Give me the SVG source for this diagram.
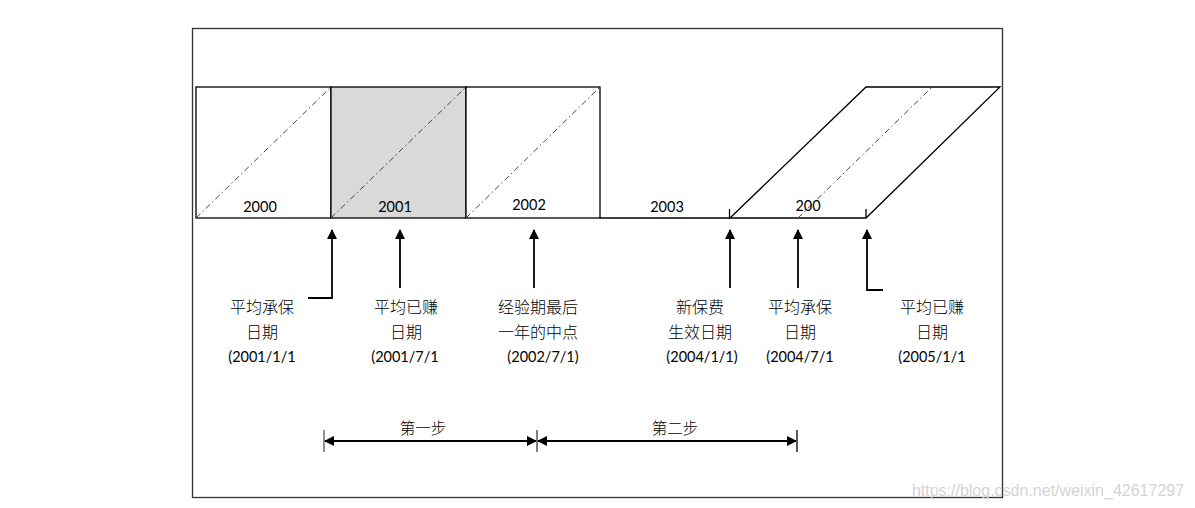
<svg xmlns="http://www.w3.org/2000/svg" width="1195" height="508" viewBox="0 0 1195 508">
<defs>
<marker id="ah" viewBox="0 0 10 10" refX="9" refY="5" markerWidth="10" markerHeight="11" markerUnits="userSpaceOnUse" orient="auto-start-reverse">
<path d="M0,0 L10,5 L0,10 z" fill="#000"/>
</marker>
<style>
.box{fill:#fff;stroke:#000;stroke-width:1.3}
.ln{fill:none;stroke:#000;stroke-width:1.3}
.dd{fill:none;stroke:#444;stroke-width:1;stroke-dasharray:6 3 1.5 3}
.arr{fill:none;stroke:#000;stroke-width:1.8}
.num{font-family:Lato,"Open Sans","Liberation Sans",sans-serif;font-size:14.5px;fill:#000;text-anchor:middle}
.lab{font-family:"Noto Sans CJK SC",sans-serif;font-size:16px;fill:#000;text-anchor:middle;font-weight:300}
.dat{font-family:Lato,"Open Sans","Liberation Sans","Noto Sans CJK SC",sans-serif;font-size:14.5px;fill:#000;text-anchor:middle}
.step{font-family:"Noto Sans CJK SC",sans-serif;font-size:15.5px;fill:#000;text-anchor:middle;font-weight:300}
</style>
</defs>
<rect x="192.5" y="28.5" width="810" height="469" fill="#fff" stroke="#333" stroke-width="1.3"/>
<g id="year2000"><rect class="box" x="196" y="87" width="135" height="131"/><line class="dd" x1="196" y1="218" x2="331" y2="87"/><text class="num" x="260" y="212">2000</text></g>
<g id="year2001"><rect class="box" x="331" y="87" width="135" height="131" style="fill:#d9d9d9"/><line class="dd" x1="331" y1="218" x2="466" y2="87"/><text class="num" x="395" y="212">2001</text></g>
<g id="year2002"><rect class="box" x="466" y="87" width="134" height="131"/><line class="dd" x1="466" y1="218" x2="600" y2="87"/><text class="num" x="529" y="210">2002</text></g>
<g id="year2003"><line class="ln" x1="600" y1="218" x2="730" y2="218"/><line class="ln" x1="729.5" y1="209" x2="729.5" y2="218"/><text class="num" x="667" y="212">2003</text></g>
<g id="year2004"><path class="box" d="M730,218 L866,87 L1000,87 L866,218 Z"/><line class="dd" x1="798" y1="218" x2="932" y2="87"/><line class="ln" x1="866" y1="209" x2="866" y2="218"/><text class="num" x="808" y="211">200</text></g>
<g id="connectors">
<path class="arr" d="M308,298 H332 V230" marker-end="url(#ah)"/>
<path class="arr" d="M400,288 V230" marker-end="url(#ah)"/>
<path class="arr" d="M534,288 V230" marker-end="url(#ah)"/>
<path class="arr" d="M730,288 V230" marker-end="url(#ah)"/>
<path class="arr" d="M798,288 V230" marker-end="url(#ah)"/>
<path class="arr" d="M883,290 H867 V230" marker-end="url(#ah)"/>
<line x1="324" y1="430" x2="324" y2="452" stroke="#555" stroke-width="1.3"/>
<line x1="537" y1="430" x2="537" y2="452" stroke="#000" stroke-width="1"/>
<line x1="797" y1="430" x2="797" y2="452" stroke="#000" stroke-width="1.3"/>
<line class="arr" x1="325" y1="441" x2="536" y2="441" marker-start="url(#ah)" marker-end="url(#ah)"/>
<line class="arr" x1="538" y1="441" x2="796" y2="441" marker-start="url(#ah)" marker-end="url(#ah)"/>
</g>
<g id="label1"><text class="lab" x="262" y="313">平均承保</text><text class="lab" x="262" y="338">日期</text><text class="dat" x="262" y="362">(2001/1/1</text></g>
<g id="label2"><text class="lab" x="406" y="313">平均已赚</text><text class="lab" x="406" y="338">日期</text><text class="dat" x="405" y="362">(2001/7/1</text></g>
<g id="label3"><text class="lab" x="538" y="313">经验期最后</text><text class="lab" x="538" y="338">一年的中点</text><text class="dat" x="543" y="362">(2002/7/1)</text></g>
<g id="label4"><text class="lab" x="700" y="313">新保费</text><text class="lab" x="700" y="338">生效日期</text><text class="dat" x="702" y="362">(2004/1/1)</text></g>
<g id="label5"><text class="lab" x="800" y="313">平均承保</text><text class="lab" x="800" y="338">日期</text><text class="dat" x="800" y="362">(2004/7/1</text></g>
<g id="label6"><text class="lab" x="932" y="313">平均已赚</text><text class="lab" x="932" y="338">日期</text><text class="dat" x="932" y="362">(2005/1/1</text></g>
<g id="step1"><text class="step" x="423" y="434">第一步</text></g>
<g id="step2"><text class="step" x="675" y="434">第二步</text></g>
<text x="1048" y="496" font-family="'Liberation Sans',sans-serif" font-size="16" fill="#d4d4d4" text-anchor="middle">https://blog.csdn.net/weixin_42617297</text>
</svg>
